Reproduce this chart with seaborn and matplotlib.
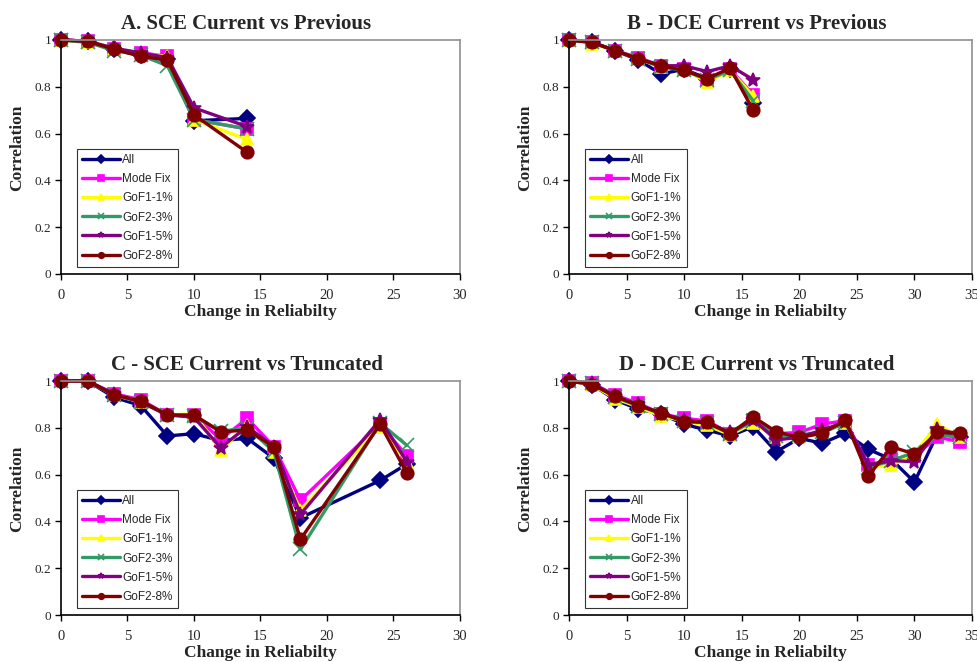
"""Four panels: correlation vs change in reliability for each ranking method."""
import pandas as pd
import matplotlib
matplotlib.use("Agg")
import matplotlib.pyplot as plt
import seaborn as sns

sns.set_style("white")
plt.rcParams['font.family'] = ['Liberation Serif', 'DejaVu Serif']

# series names and styles
series = ["All", "Mode Fix", "GoF1-1%", "GoF2-3%", "GoF1-5%", "GoF2-8%"]
colors = ["#000080", "#FF00FF", "#FFFF00", "#339966", "#800080", "#800000"]
markers = ["D", "s", "^", "x", "*", "o"]

# A. SCE current vs previous
x_a = [0, 2, 4, 6, 8, 10, 14]
a_all = [1, 0.995, 0.96, 0.935, 0.92, 0.655, 0.665]
a_mode = [1, 0.995, 0.96, 0.945, 0.93, 0.66, 0.62]
a_gof1_1 = [1, 0.99, 0.96, 0.94, 0.93, 0.66, 0.575]
a_gof2_3 = [1, 0.99, 0.955, 0.935, 0.89, 0.66, 0.62]
a_gof1_5 = [1, 0.995, 0.965, 0.945, 0.925, 0.71, 0.63]
a_gof2_8 = [1, 0.995, 0.96, 0.93, 0.915, 0.68, 0.52]

# B - DCE current vs previous
x_b = [0, 2, 4, 6, 8, 10, 12, 14, 16]
b_all = [1, 0.99, 0.955, 0.915, 0.855, 0.875, 0.835, 0.875, 0.73]
b_mode = [1, 0.99, 0.955, 0.925, 0.89, 0.875, 0.825, 0.875, 0.765]
b_gof1_1 = [1, 0.985, 0.955, 0.92, 0.885, 0.875, 0.82, 0.87, 0.76]
b_gof2_3 = [1, 0.99, 0.955, 0.92, 0.885, 0.87, 0.83, 0.87, 0.74]
b_gof1_5 = [1, 0.99, 0.955, 0.92, 0.89, 0.89, 0.865, 0.89, 0.83]
b_gof2_8 = [1, 0.99, 0.955, 0.92, 0.89, 0.87, 0.835, 0.88, 0.70]

# C - SCE current vs truncated
x_c = [0, 2, 4, 6, 8, 10, 12, 14, 16, 18, 24, 26]
c_all = [1, 1, 0.93, 0.895, 0.765, 0.775, 0.745, 0.755, 0.67, 0.415, 0.575, 0.645]
c_mode = [1, 1, 0.945, 0.92, 0.855, 0.855, 0.75, 0.84, 0.72, 0.49, 0.815, 0.68]
c_gof1_1 = [1, 1, 0.94, 0.91, 0.855, 0.86, 0.705, 0.81, 0.695, 0.45, 0.805, 0.655]
c_gof2_3 = [1, 1, 0.94, 0.91, 0.855, 0.85, 0.785, 0.80, 0.70, 0.28, 0.82, 0.725]
c_gof1_5 = [1, 1, 0.945, 0.91, 0.855, 0.845, 0.715, 0.805, 0.72, 0.43, 0.835, 0.655]
c_gof2_8 = [1, 1, 0.94, 0.915, 0.855, 0.855, 0.783, 0.79, 0.72, 0.323, 0.815, 0.607]

# D - DCE current vs truncated
x_d = [0, 2, 4, 6, 8, 10, 12, 14, 16, 18, 20, 22, 24, 26, 28, 30, 32, 34]
d_all = [1, 0.985, 0.92, 0.88, 0.86, 0.815, 0.79, 0.765, 0.805, 0.698, 0.755, 0.734, 0.777,
         0.708, 0.665, 0.568, 0.775, 0.76]
d_mode = [1, 0.99, 0.94, 0.905, 0.86, 0.84, 0.83, 0.775, 0.835, 0.775, 0.78, 0.816, 0.83,
          0.641, 0.665, 0.68, 0.76, 0.74]
d_gof1_1 = [1, 0.985, 0.925, 0.89, 0.85, 0.83, 0.81, 0.77, 0.82, 0.76, 0.76, 0.79, 0.82,
            0.63, 0.64, 0.69, 0.815, 0.76]
d_gof2_3 = [1, 0.99, 0.93, 0.895, 0.86, 0.83, 0.82, 0.775, 0.83, 0.765, 0.77, 0.78, 0.82,
            0.63, 0.66, 0.695, 0.77, 0.76]
d_gof1_5 = [1, 0.99, 0.935, 0.9, 0.86, 0.835, 0.82, 0.78, 0.835, 0.748, 0.76, 0.79, 0.825,
            0.64, 0.66, 0.655, 0.795, 0.77]
d_gof2_8 = [1, 0.985, 0.935, 0.895, 0.865, 0.825, 0.825, 0.775, 0.847, 0.783, 0.759, 0.776, 0.833,
            0.594, 0.719, 0.688, 0.78, 0.777]

panels = [
    ("A. SCE Current vs Previous", x_a, [a_all, a_mode, a_gof1_1, a_gof2_3, a_gof1_5, a_gof2_8], 30),
    ("B - DCE Current vs Previous", x_b, [b_all, b_mode, b_gof1_1, b_gof2_3, b_gof1_5, b_gof2_8], 35),
    ("C - SCE Current vs Truncated", x_c, [c_all, c_mode, c_gof1_1, c_gof2_3, c_gof1_5, c_gof2_8], 30),
    ("D - DCE Current vs Truncated", x_d, [d_all, d_mode, d_gof1_1, d_gof2_3, d_gof1_5, d_gof2_8], 35),
]

W, H = 978, 662
fig = plt.figure(figsize=(W / 100, H / 100), dpi=100)

# axes boxes in pixels: left, top, right, bottom
boxes = [(61, 40, 460, 274), (569, 40, 972, 274), (61, 381, 460, 615), (569, 381, 972, 615)]

for (title, xs, ys, xmax), (l, t, r, b) in zip(panels, boxes):
    ax = fig.add_axes([l / W, 1 - b / H, (r - l) / W, (b - t) / H])
    for name, vals, col, mk in zip(series, ys, colors, markers):
        df = pd.DataFrame({"x": xs, "y": vals})
        ms = 8 if mk != "o" else 9
        if mk in ("x", "*"):
            ms = 10
        sns.lineplot(data=df, x="x", y="y", ax=ax, color=col, marker=mk, markersize=ms,
                     markeredgecolor=col, markerfacecolor=col, markeredgewidth=1.2,
                     linewidth=2.4, label=name, sort=False)
    ax.set_xlim(0, xmax)
    ax.set_ylim(0, 1)
    ax.set_xticks(range(0, xmax + 1, 5))
    ax.set_yticks([0, 0.2, 0.4, 0.6, 0.8, 1])
    ax.set_yticklabels(["0", "0.2", "0.4", "0.6", "0.8", "1"])
    ax.tick_params(axis="both", direction="out", length=4, width=1, color="black",
                   left=True, bottom=True)
    ax.tick_params(axis="x", labelsize=10.5, pad=7)
    ax.tick_params(axis="y", labelsize=9.5, pad=3)
    for s in ["left", "bottom"]:
        ax.spines[s].set_color("black")
        ax.spines[s].set_linewidth(1.2)
    for s in ["top", "right"]:
        ax.spines[s].set_color("#909090")
        ax.spines[s].set_linewidth(1.2)
    ax.set_xlabel("Change in Reliabilty", fontsize=12.5, fontweight="bold", labelpad=1.5)
    ax.set_ylabel("Correlation", fontsize=12.5, fontweight="bold")
    ax.yaxis.set_label_coords(-36 / (r - l), 0.54)
    ax.set_title(title, fontsize=15, fontweight="bold", x=0.465, pad=8)
    for ln in ax.get_lines():
        ln.set_clip_on(False)
    leg = ax.legend(loc="lower left", bbox_to_anchor=(0.04, 0.03), frameon=True, fancybox=False,
                    prop={"family": "Liberation Sans", "size": 8.5}, handlelength=3.2,
                    borderpad=0.45, labelspacing=0.6, handletextpad=0.2, borderaxespad=0)
    leg.get_frame().set_edgecolor("black")
    leg.get_frame().set_linewidth(0.8)
    for h in leg.legend_handles:
        h.set_markersize(4)

fig.savefig("out.png", dpi=100)
